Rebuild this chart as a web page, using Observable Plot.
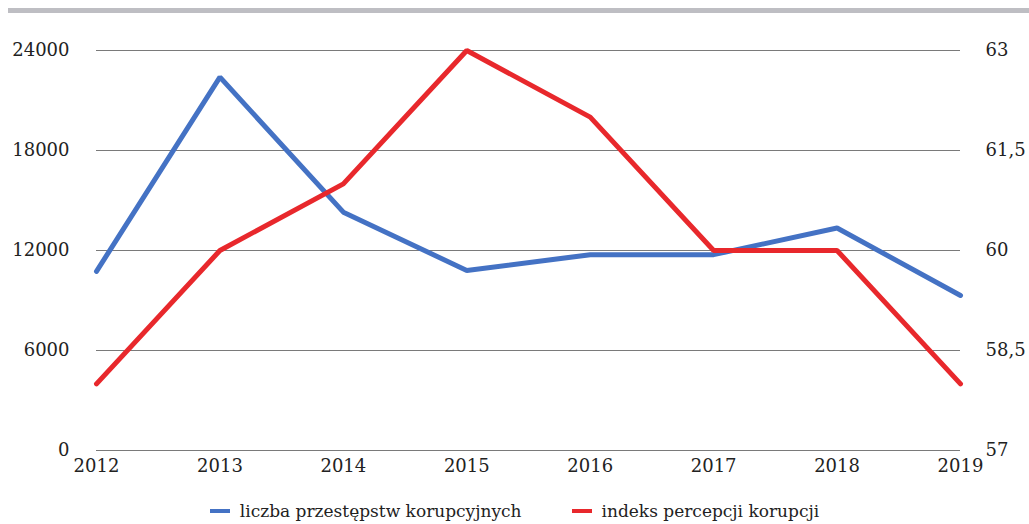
<!DOCTYPE html>
<html><head><meta charset="utf-8">
<script src="https://cdn.jsdelivr.net/npm/d3@7"></script>
<script src="https://cdn.jsdelivr.net/npm/@observablehq/plot@0.6"></script>
<style>
body{margin:0;background:#fff;font-family:"DejaVu Serif",serif;}
#wrap{position:relative;width:1029px;height:524px;overflow:hidden;}
#bar{position:absolute;left:8px;top:8px;width:1021px;height:5px;background:#BEBEC3;}
#legend{position:absolute;top:501px;left:0;width:1029px;display:flex;justify-content:center;gap:50px;font-size:17px;color:#222;}
.item{display:flex;align-items:center;gap:10px;}
.sw{display:inline-block;width:20px;height:4px;}
</style></head>
<body><div id="wrap"><div id="bar"></div><div id="chart"></div><div id="legend"></div></div>
<script>
const years = [2012, 2013, 2014, 2015, 2016, 2017, 2018, 2019];
const crimes = [10750, 22400, 14300, 10800, 11750, 11750, 13350, 9300];
const cpi = [58, 60, 61, 63, 62, 60, 60, 58];
const leftTicks = [0, 6000, 12000, 18000, 24000];
const rightTicks = [57, 58.5, 60, 61.5, 63];
const seriesNames = ["liczba przestępstw korupcyjnych", "indeks percepcji korupcji"];
const colors = ["#4472C4", "#E8282C"];

const rMin = 57, rMax = 63, lMax = 24000;
const toLeft = v => (v - rMin) / (rMax - rMin) * lMax;
const toRight = v => rMin + v / lMax * (rMax - rMin);

const blue = years.map((y, i) => ({year: y, v: crimes[i]}));
const red = years.map((y, i) => ({year: y, v: toLeft(cpi[i])}));

const fmtR = v => String(v).replace(".", ",");
const FF = '"DejaVu Serif", serif';

const chart = Plot.plot({
  width: 1029, height: 480,
  marginLeft: 96, marginRight: 69, marginTop: 50, marginBottom: 30,
  style: {fontFamily: FF, fontSize: "18px", color: "#222", background: "transparent", overflow: "visible"},
  x: {domain: [2012, 2019]},
  y: {domain: [0, lMax]},
  marks: [
    Plot.ruleY(leftTicks, {stroke: "#7a7a7a", strokeWidth: 1.2}),
    Plot.axisY({ticks: leftTicks, tickSize: 0, tickPadding: 27, label: null, tickFormat: d => String(d), fontSize: 18, fontFamily: FF}),
    Plot.axisY({anchor: "right", ticks: rightTicks.map(toLeft), tickSize: 0, tickPadding: 25, label: null, tickFormat: d => fmtR(+toRight(d).toFixed(1)), fontSize: 18, fontFamily: FF}),
    Plot.axisX({ticks: years, tickSize: 0, tickPadding: 9, label: null, tickFormat: d => String(d), fontSize: 18, fontFamily: FF}),
    Plot.line(blue, {x: "year", y: "v", stroke: colors[0], strokeWidth: 5, strokeLinejoin: "miter"}),
    Plot.line(red, {x: "year", y: "v", stroke: colors[1], strokeWidth: 5, strokeLinejoin: "miter"})
  ]
});
document.getElementById("chart").appendChild(chart);

const leg = document.getElementById("legend");
seriesNames.forEach((n, i) => {
  const it = document.createElement("div"); it.className = "item";
  const sw = document.createElement("span"); sw.className = "sw"; sw.style.background = colors[i];
  const t = document.createElement("span"); t.textContent = n;
  it.appendChild(sw); it.appendChild(t); leg.appendChild(it);
});
</script></body></html>
